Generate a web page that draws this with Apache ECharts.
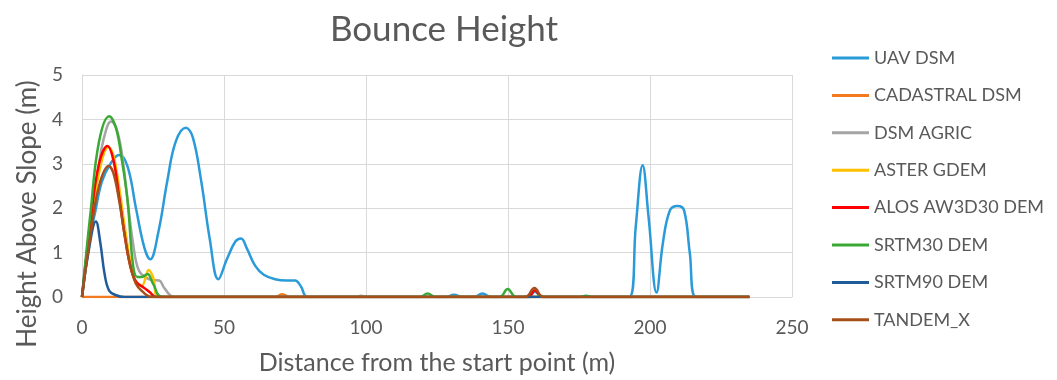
<!DOCTYPE html>
<html><head><meta charset="utf-8">
<script src="https://cdn.jsdelivr.net/npm/echarts@6/dist/echarts.min.js"></script>
<style>html,body{margin:0;padding:0;background:#fff}#c{width:1057px;height:380px}</style>
</head><body><div id="c"></div>
<script>
const seriesNames = ["UAV DSM","CADASTRAL DSM","DSM AGRIC","ASTER GDEM","ALOS AW3D30 DEM","SRTM30 DEM","SRTM90 DEM","TANDEM_X"];
const seriesColors = ["#2A9BD8","#F47A20","#A5A5A5","#FFC000","#FF0000","#3BA935","#1F5C99","#A5501B"];
const xTicks = [0,50,100,150,200,250];
const yTicks = [0,1,2,3,4,5];

const uavDsm = [[0,0],[3,1.4],[4.7,1.93],[7,2.6],[10,3.0],[13,3.2],[16,2.95],[19,2.0],[22,1.1],[24,0.85],[27,1.5],[30,2.6],[33,3.5],[36.6,3.81],[39,3.6],[42,2.6],[45,1.3],[48,0.4],[51,0.85],[54,1.25],[56,1.32],[58,1.1],[61,0.7],[64,0.5],[68,0.4],[72,0.37],[75,0.37],[77,0.25],[79.5,0],[128,0],[131,0.05],[134,0],[138,0],[141,0.08],[144,0],[157,0],[159.5,0.12],[162,0],[192.7,0],[195,1.6],[197.4,2.97],[199.5,1.8],[202.3,0.1],[204.5,1.2],[207,1.95],[209.7,2.05],[212,1.95],[214,1.0],[216.2,0],[235,0]];
const cadastralDsm = [[0,0],[68,0],[70.6,0.06],[73,0],[235,0]];
const dsmAgric = [[0,0],[3,1.6],[6,3.0],[8,3.65],[10.2,3.95],[12,3.82],[14,3.25],[16,2.2],[18,1.2],[20,0.6],[23,0.42],[25,0.38],[27.2,0.37],[29,0.2],[32.5,0],[96,0],[98.2,0.03],[100.5,0],[235,0]];
const asterGdem = [[0,0],[3,1.5],[6,2.8],[9.3,3.38],[11,3.2],[13,2.5],[15,1.6],[17,0.8],[19,0.3],[21,0.25],[23.5,0.61],[25,0.45],[27.2,0],[235,0]];
const alosDem = [[0,0],[3,1.7],[6,3.0],[9,3.4],[11,3.1],[13,2.3],[15,1.4],[17,0.7],[19,0.35],[22,0.2],[24,0.1],[26,0],[157,0],[159.5,0.15],[162,0],[235,0]];
const srtm30Dem = [[0,0],[3,1.9],[6,3.5],[9.6,4.07],[12,3.8],[14,3.1],[16,2.2],[18,0.7],[19.5,0.45],[21,0.45],[23.1,0.52],[25,0.3],[28.4,0],[119,0],[121.7,0.08],[124.5,0],[147,0],[149.9,0.18],[152.8,0],[160,0],[161.5,0.03],[163,0],[175,0],[177.5,0.03],[180,0],[235,0]];
const srtm90Dem = [[0,0],[2,0.9],[4.9,1.7],[6.5,1.2],[8,0.5],[9.6,0.14],[12,0.04],[15,0],[235,0]];
const tandemX = [[0,0],[3,1.4],[6,2.5],[9.4,2.95],[11,2.8],[13,2.2],[15,1.4],[17,0.7],[19,0.3],[21,0.14],[24.6,0],[156,0],[159.3,0.2],[162.5,0],[235,0]];

const allData = [uavDsm,cadastralDsm,dsmAgric,asterGdem,alosDem,srtm30Dem,srtm90Dem,tandemX];
const FONT = 'Lato';
const TXT = '#595959';
const chart = echarts.init(document.getElementById('c'), null, {renderer:'canvas'});
chart.setOption({
  animation:false,
  backgroundColor:'#fff',
  title:{text:'Bounce Height', left:439, top:7, textAlign:'center',
    textStyle:{fontFamily:FONT, fontSize:35, fontWeight:'normal', color:TXT}},
  legend:{orient:'vertical', left:827, top:43, icon:'rect', itemWidth:37, itemHeight:3, itemGap:17.4,
    textStyle:{fontFamily:FONT, fontSize:18, color:TXT, lineHeight:20},
    data:seriesNames},
  grid:{left:82, right:265, top:75, bottom:82, containLabel:false},
  xAxis:{type:'value', min:xTicks[0], max:xTicks[xTicks.length-1], interval:50,
    name:'Distance from the start point (m)', nameLocation:'middle', nameGap:53,
    nameTextStyle:{fontFamily:FONT, fontSize:25, color:TXT, verticalAlign:'top'},
    axisLine:{show:true, lineStyle:{color:'#D9D9D9', width:1}}, axisTick:{show:false},
    axisLabel:{fontFamily:FONT, fontSize:19, color:TXT, margin:21},
    splitLine:{show:true, lineStyle:{color:'#D9D9D9', width:1}}},
  yAxis:{type:'value', min:yTicks[0], max:yTicks[yTicks.length-1], interval:1,
    name:'Height Above Slope (m)', nameLocation:'middle', nameGap:40, nameRotate:90,
    nameTextStyle:{fontFamily:FONT, fontSize:26, color:TXT, padding:[0,56,0,0]},
    axisLine:{show:true, lineStyle:{color:'#D9D9D9', width:1}}, axisTick:{show:false},
    axisLabel:{fontFamily:FONT, fontSize:19, color:TXT, margin:19},
    splitLine:{show:true, lineStyle:{color:'#D9D9D9', width:1}}},
  series: seriesNames.map((n,i)=>({name:n, type:'line', data:allData[i], smooth:0.4,
    showSymbol:false, symbol:'none', color:seriesColors[i], lineStyle:{width:2.5, color:seriesColors[i]}}))
});
</script></body></html>
